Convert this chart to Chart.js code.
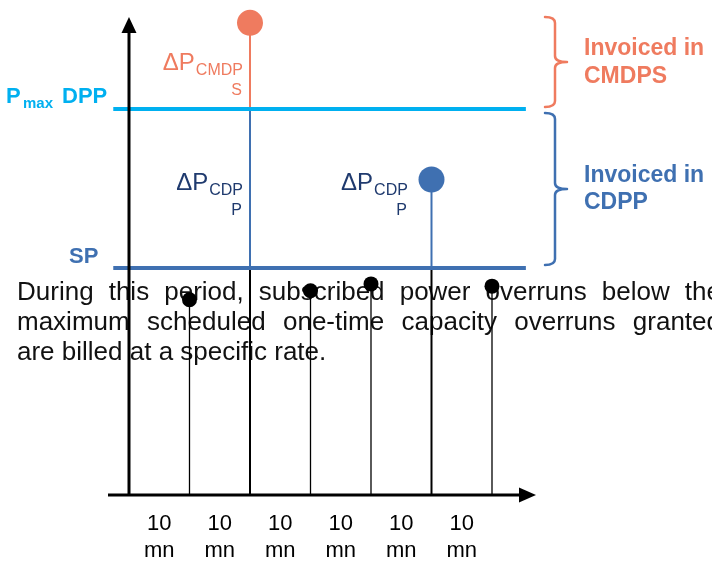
<!DOCTYPE html>
<html><head><meta charset="utf-8">
<script src="https://cdn.jsdelivr.net/npm/chart.js@4"></script>
<style>html,body{margin:0;padding:0;background:#fff;overflow:hidden}canvas{display:block}</style>
</head><body>
<canvas id="c" width="712" height="562"></canvas>
<script>
// ---- data ----
const intervalLabels = ["10 mn","10 mn","10 mn","10 mn","10 mn","10 mn"];
const stemX = [1, 2, 3, 4, 5, 6];
const stemValues = [86, 208, 90, 93, 139, 92];
const stemKinds = ["base", "cmdps", "base", "base", "cdpp", "base"];
const SP = 100;
const PMAX_DPP = 170;
const paragraphLines = [
  "During this period, subscribed power overruns below the",
  "maximum scheduled one-time capacity overruns granted",
  "are billed at a specific rate."
];

// ---- style ----
const ORANGE = '#EF7B5F', LIGHTBLUE = '#00B0F0', STEEL = '#3F70B1', NAVY = '#1F3A6E', BLACK = '#000000';
const FONT = "'Liberation Sans', Arial, sans-serif";
const X_MIN = -2.1322, X_MAX = 9.6364, Y_MIN = -29.52, Y_MAX = 218.06;
const REF_FROM = -0.26, REF_TO = 6.56;

// build stem segment datasets
const stemDatasets = [];
stemX.forEach((x, i) => {
  const v = stemValues[i], kind = stemKinds[i];
  const w = kind === 'base' ? 1.3 : 2;
  stemDatasets.push({type:'line', data:[{x, y:0},{x, y:Math.min(v, SP)}], borderColor:BLACK, borderWidth:w, pointRadius:0, order:3});
  if (v > SP) stemDatasets.push({type:'line', data:[{x, y:SP},{x, y:Math.min(v, PMAX_DPP)}], borderColor:STEEL, borderWidth:2, pointRadius:0, order:3});
  if (v > PMAX_DPP) stemDatasets.push({type:'line', data:[{x, y:PMAX_DPP},{x, y:v}], borderColor:ORANGE, borderWidth:2, pointRadius:0, order:3});
});
const dotColor = k => k === 'cmdps' ? ORANGE : (k === 'cdpp' ? STEEL : BLACK);
const dotRadius = k => k === 'base' ? 7.5 : 13;

const dotsDataset = {
  type:'scatter',
  data: stemX.map((x, i) => ({x, y: stemValues[i]})),
  pointBackgroundColor: stemKinds.map(dotColor),
  pointBorderWidth: 0,
  pointRadius: stemKinds.map(dotRadius),
  order: 0,
  clip: false
};
const refDatasets = [
  {type:'line', data:[{x:REF_FROM, y:PMAX_DPP},{x:REF_TO, y:PMAX_DPP}], borderColor:LIGHTBLUE, borderWidth:4, pointRadius:0, order:1},
  {type:'line', data:[{x:REF_FROM, y:SP},{x:REF_TO, y:SP}], borderColor:STEEL, borderWidth:4, pointRadius:0, order:1}
];

function subLabel(ctx, rightX, baseY, main, sub, sub2, color) {
  ctx.fillStyle = color;
  ctx.textBaseline = 'alphabetic';
  ctx.font = `16px ${FONT}`;
  ctx.textAlign = 'right';
  const subW = ctx.measureText(sub).width;
  ctx.fillText(sub, rightX, baseY + 5);
  ctx.fillText(sub2, rightX - 1, baseY + 25);
  ctx.font = `24px ${FONT}`;
  ctx.fillText(main, rightX - subW - 1, baseY);
}

function brace(ctx, x, yTop, yBot, color) {
  const xl = x - 10, xt = x + 12, ym = (yTop + yBot) / 2, r = 6;
  ctx.save();
  ctx.strokeStyle = color; ctx.lineWidth = 2.5; ctx.lineCap = 'round'; ctx.lineJoin='round';
  ctx.beginPath();
  ctx.moveTo(xl, yTop);
  ctx.quadraticCurveTo(x, yTop, x, yTop + r);
  ctx.lineTo(x, ym - r);
  ctx.quadraticCurveTo(x, ym, xt, ym);
  ctx.quadraticCurveTo(x, ym, x, ym + r);
  ctx.lineTo(x, yBot - r);
  ctx.quadraticCurveTo(x, yBot, xl, yBot);
  ctx.stroke();
  ctx.restore();
}

const diagramPlugin = {
  id: 'diagram',
  beforeDatasetsDraw(chart) {
    const ctx = chart.ctx;
    ctx.save();
    ctx.fillStyle = '#111';
    ctx.font = `26px ${FONT}`;
    ctx.textAlign = 'left';
    ctx.textBaseline = 'alphabetic';
    const left = 17, W = 704, lh = 30, top = 300;
    paragraphLines.forEach((line, li) => {
      const y = top + li * lh;
      if (li === paragraphLines.length - 1) { ctx.fillText(line, left, y); return; }
      const words = line.split(' ');
      const widths = words.map(w => ctx.measureText(w).width);
      const total = widths.reduce((a, b) => a + b, 0);
      const gap = (W - total) / (words.length - 1);
      let xx = left;
      words.forEach((w, k) => { ctx.fillText(w, xx, y); xx += widths[k] + gap; });
    });
    ctx.restore();
  },
  afterDatasetsDraw(chart) {
    const ctx = chart.ctx;
    const xs = chart.scales.x, ys = chart.scales.y;
    const x0 = xs.getPixelForValue(0), y0 = ys.getPixelForValue(0);
    ctx.save();
    // axes
    ctx.strokeStyle = BLACK; ctx.fillStyle = BLACK; ctx.lineWidth = 3;
    ctx.beginPath(); ctx.moveTo(x0, y0 + 1); ctx.lineTo(x0, 30); ctx.stroke();
    ctx.beginPath(); ctx.moveTo(x0 - 7.5, 33); ctx.lineTo(x0, 17); ctx.lineTo(x0 + 7.5, 33); ctx.closePath(); ctx.fill();
    ctx.beginPath(); ctx.moveTo(108, y0); ctx.lineTo(522, y0); ctx.stroke();
    ctx.beginPath(); ctx.moveTo(519, y0 - 7.5); ctx.lineTo(536, y0); ctx.lineTo(519, y0 + 7.5); ctx.closePath(); ctx.fill();

    // interval labels
    ctx.fillStyle = BLACK; ctx.font = `22px ${FONT}`; ctx.textAlign = 'center'; ctx.textBaseline = 'alphabetic';
    intervalLabels.forEach((lab, i) => {
      const px = xs.getPixelForValue(i + 0.5);
      const parts = lab.split(' ');
      ctx.fillText(parts[0], px, 530);
      ctx.fillText(parts[1], px, 557);
    });

    // left labels
    const yP = ys.getPixelForValue(PMAX_DPP), ySP = ys.getPixelForValue(SP);
    ctx.textAlign = 'left';
    ctx.fillStyle = LIGHTBLUE;
    ctx.font = `bold 22px ${FONT}`; ctx.fillText('P', 6, yP - 6);
    ctx.font = `bold 15px ${FONT}`; ctx.fillText('max', 23, yP - 1);
    ctx.font = `bold 22px ${FONT}`; ctx.fillText('DPP', 62, yP - 6);
    ctx.fillStyle = STEEL;
    ctx.fillText('SP', 69, ySP - 5);

    // delta labels
    subLabel(ctx, xs.getPixelForValue(1.884), 70, 'ΔP', 'CMDP', 'S', ORANGE);
    subLabel(ctx, xs.getPixelForValue(1.884), 190, 'ΔP', 'CDP', 'P', NAVY);
    subLabel(ctx, xs.getPixelForValue(4.61), 190, 'ΔP', 'CDP', 'P', NAVY);

    // braces
    brace(ctx, 555, 17, yP - 2, ORANGE);
    brace(ctx, 555, yP + 4, ySP - 3, STEEL);

    ctx.textAlign = 'left';
    ctx.font = `bold 23px ${FONT}`;
    ctx.fillStyle = ORANGE;
    ctx.fillText('Invoiced in', 584, 55);
    ctx.fillText('CMDPS', 584, 83);
    ctx.fillStyle = STEEL;
    ctx.fillText('Invoiced in', 584, 182);
    ctx.fillText('CDPP', 584, 209);
    ctx.restore();
  }
};

new Chart(document.getElementById('c'), {
  type: 'scatter',
  data: { datasets: [dotsDataset, ...refDatasets, ...stemDatasets] },
  options: {
    responsive: false,
    devicePixelRatio: 1,
    animation: false,
    layout: { padding: 0, autoPadding: false },
    plugins: { legend: { display: false }, tooltip: { enabled: false } },
    scales: {
      x: { type: 'linear', min: X_MIN, max: X_MAX, display: false },
      y: { type: 'linear', min: Y_MIN, max: Y_MAX, display: false }
    }
  },
  plugins: [diagramPlugin]
});
</script>
</body></html>
